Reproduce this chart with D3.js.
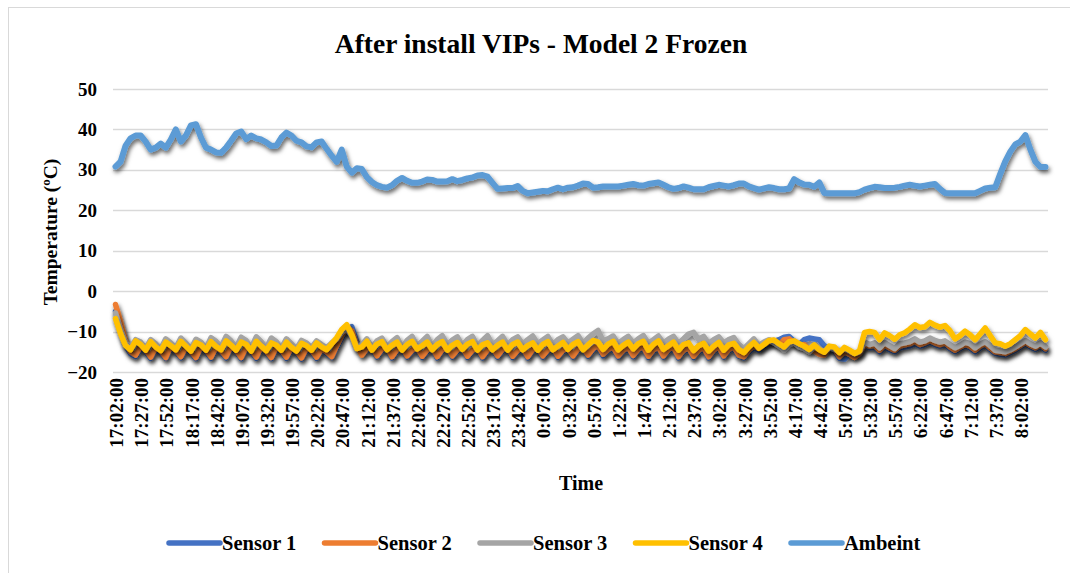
<!DOCTYPE html>
<html>
<head>
<meta charset="utf-8">
<script src="https://cdn.jsdelivr.net/npm/d3@7"></script>
<style>
  body { margin: 0; background: #fff; }
  text { font-family: "Liberation Serif", "Times New Roman", serif; font-weight: bold; fill: #000; }
</style>
</head>
<body>
<script>
// readings every 5 minutes from 17:02:00, tick label every 25 minutes
var tickLabels = ['17:02:00','17:27:00','17:52:00','18:17:00','18:42:00','19:07:00','19:32:00','19:57:00',
  '20:22:00','20:47:00','21:12:00','21:37:00','22:02:00','22:27:00','22:52:00','23:17:00','23:42:00',
  '0:07:00','0:32:00','0:57:00','1:22:00','1:47:00','2:12:00','2:37:00','3:02:00','3:27:00','3:52:00',
  '4:17:00','4:42:00','5:07:00','5:32:00','5:57:00','6:22:00','6:47:00','7:12:00','7:37:00','8:02:00'];
var yTicks = [-20, -10, 0, 10, 20, 30, 40, 50];

var ambient = [
  30.8, 32, 36, 37.8, 38.5, 38.5, 37, 35, 35.5, 36.5,
  35.5, 37.5, 40, 37, 38.5, 41, 41.3, 38, 35.5, 35,
  34.3, 34.2, 35.5, 37.2, 39, 39.5, 37.6, 38.5, 37.8, 37.5,
  36.8, 35.9, 36, 38, 39.2, 38.5, 37.2, 36.8, 35.8, 35.6,
  36.8, 37, 35.2, 33.5, 32, 35, 30.8, 29.3, 30.4, 30.2,
  28.2, 27, 26.2, 25.8, 25.6, 26.2, 27.3, 28, 27.3, 26.8,
  26.8, 27.1, 27.6, 27.5, 27.1, 27.1, 27.2, 27.7, 27.2, 27.5,
  27.9, 28.1, 28.6, 28.7, 28.3, 26.8, 25.3, 25.4, 25.5, 25.5,
  26, 24.8, 24.2, 24.4, 24.6, 24.8, 24.7, 25.2, 25.6, 25.2,
  25.6, 25.7, 26.1, 26.6, 26.5, 25.6, 25.7, 25.9, 25.9, 25.9,
  25.9, 26.1, 26.3, 26.5, 26.2, 26.1, 26.5, 26.7, 26.9, 26.3,
  25.7, 25.3, 25.5, 25.9, 25.6, 25.2, 25.2, 25.2, 25.7, 26,
  26.3, 26.1, 25.9, 26.2, 26.6, 26.6, 25.9, 25.5, 25.1, 25.4,
  25.7, 25.5, 25.2, 25.2, 25.4, 27.7, 26.9, 26.4, 26.3, 25.8,
  26.9, 24.3, 24.2, 24.2, 24.2, 24.2, 24.2, 24.2, 24.5, 25.1,
  25.5, 25.8, 25.7, 25.5, 25.5, 25.6, 25.8, 26.1, 26.3, 26.1,
  25.9, 26.1, 26.3, 26.5, 25.3, 24.3, 24.2, 24.2, 24.2, 24.2,
  24.2, 24.2, 24.8, 25.4, 25.6, 25.7, 29, 32.1, 34.5, 36.3,
  37, 38.6, 35, 32, 30.7, 30.7
];

var sensor1 = [
  -5.0, -9.0, -13.5, -15.5, -16.2, -14.2, -15.0, -16.6, -14.4, -15.2,
  -16.6, -14.0, -15.0, -16.5, -14.2, -15.2, -16.7, -14.1, -15.0, -16.6,
  -14.3, -15.1, -16.5, -14.0, -15.0, -16.7, -14.2, -15.0, -16.6, -14.1,
  -15.2, -16.7, -14.2, -15.0, -16.6, -14.4, -15.2, -16.8, -14.5, -15.0,
  -16.6, -14.6, -15.4, -16.4, -14.0, -11.6, -9.5, -8.8, -12.5, -15.5,
  -14.6, -14.0, -16.3, -14.7, -14.2, -16.5, -14.8, -14.2, -16.3, -15.0,
  -14.3, -16.4, -14.9, -14.2, -16.5, -14.8, -14.3, -16.3, -14.9, -14.2,
  -16.4, -15.0, -14.4, -16.5, -14.9, -14.3, -16.3, -14.8, -14.2, -16.4,
  -15.0, -14.4, -16.5, -14.8, -14.3, -16.3, -14.9, -14.3, -16.4, -15.0,
  -14.4, -16.3, -14.7, -14.2, -16.1, -14.6, -13.8, -16.0, -14.8, -14.2,
  -16.3, -15.0, -14.3, -16.2, -14.7, -14.1, -16.4, -14.9, -14.2, -16.3,
  -14.8, -14.2, -16.5, -15.0, -14.4, -16.4, -15.0, -14.3, -16.5, -14.9,
  -14.2, -16.3, -14.8, -14.1, -16.1, -16.5, -15.0, -14.0, -14.6, -13.6,
  -13.0, -12.4, -12.0, -11.4, -11.2, -12.4, -13.2, -12.0, -11.6, -11.8,
  -12.0, -13.5, -14.0, -14.8, -16.6, -16.8, -15.5, -16.0, -15.6, -13.5,
  -14.0, -13.8, -15.0, -13.8, -14.5, -15.0, -14.0, -13.8, -13.6, -13.0,
  -13.6, -13.2, -12.6, -13.2, -13.6, -13.2, -14.2, -15.0, -14.2, -13.6,
  -14.0, -15.0, -14.0, -13.4, -14.4, -15.4, -15.6, -15.8, -15.2, -14.6,
  -13.8, -13.0, -13.8, -14.4, -13.6, -14.6
];

var sensor2 = [
  -3.3, -7.5, -12.5, -15.0, -15.8, -13.6, -14.5, -16.3, -13.8, -14.7,
  -16.4, -13.5, -14.6, -16.2, -13.7, -14.8, -16.4, -13.6, -14.5, -16.3,
  -13.8, -14.7, -16.2, -13.5, -14.6, -16.4, -13.7, -14.5, -16.3, -13.6,
  -14.8, -16.4, -13.7, -14.6, -16.3, -13.9, -14.8, -16.5, -14.0, -14.6,
  -16.3, -14.2, -15.0, -16.2, -13.5, -11.0, -9.0, -9.8, -13.5, -15.8,
  -14.2, -13.6, -16.0, -14.3, -13.8, -16.2, -14.4, -13.8, -16.0, -14.6,
  -13.9, -16.1, -14.5, -13.8, -16.2, -14.4, -13.9, -16.0, -14.5, -13.8,
  -16.1, -14.6, -14.0, -16.2, -14.5, -13.9, -16.0, -14.4, -13.8, -16.1,
  -14.6, -14.0, -16.2, -14.4, -13.9, -16.0, -14.5, -13.9, -16.1, -14.6,
  -14.0, -16.0, -14.3, -13.8, -15.8, -14.2, -13.4, -15.6, -14.4, -13.8,
  -16.0, -14.6, -13.9, -15.9, -14.3, -13.7, -16.1, -14.5, -13.8, -16.0,
  -14.4, -13.8, -16.2, -14.6, -14.0, -16.1, -14.6, -13.9, -16.2, -14.5,
  -13.8, -16.0, -14.4, -13.7, -15.8, -16.2, -14.5, -13.6, -14.2, -13.0,
  -12.6, -12.2, -13.4, -12.0, -11.8, -12.8, -13.5, -13.2, -14.6, -14.8,
  -15.6, -15.8, -14.0, -14.2, -16.2, -15.0, -15.6, -16.4, -15.4, -13.2,
  -13.6, -13.4, -14.6, -13.3, -14.0, -14.6, -13.6, -13.3, -13.0, -12.4,
  -13.2, -12.8, -12.2, -12.8, -13.2, -12.8, -13.8, -14.6, -13.8, -13.2,
  -13.6, -14.6, -13.6, -13.0, -14.0, -15.0, -15.2, -15.4, -14.8, -14.2,
  -13.4, -12.6, -13.4, -14.0, -13.2, -14.2
];

var sensor3 = [
  -5.4, -9.5, -12.8, -14.0, -12.0, -12.6, -14.2, -12.0, -13.0, -14.3,
  -11.8, -12.8, -14.0, -11.6, -12.8, -14.3, -11.9, -12.6, -14.1, -11.5,
  -12.4, -13.8, -11.2, -12.3, -13.9, -11.4, -12.2, -14.0, -11.3, -12.5,
  -14.0, -11.6, -12.5, -14.1, -11.8, -13.0, -14.3, -12.2, -12.8, -14.0,
  -12.3, -13.2, -14.0, -12.8, -11.8, -10.2, -9.2, -11.0, -13.8, -13.2,
  -11.8, -14.0, -12.3, -11.6, -13.8, -12.5, -11.5, -13.9, -12.2, -11.2,
  -13.5, -12.4, -11.2, -13.6, -12.0, -11.0, -13.2, -12.1, -11.3, -13.4,
  -12.0, -11.2, -13.5, -12.2, -11.0, -13.2, -12.3, -11.2, -13.3, -12.0,
  -11.3, -13.1, -12.0, -11.1, -13.0, -12.1, -11.2, -13.2, -12.0, -11.3,
  -12.8, -11.9, -11.0, -12.9, -11.6, -10.6, -9.7, -12.3, -11.8, -11.1,
  -13.0, -12.0, -11.2, -12.8, -11.8, -11.0, -12.9, -12.0, -11.1, -12.8,
  -11.9, -11.2, -12.9, -11.8, -10.6, -10.2, -11.9, -11.2, -12.9, -12.0,
  -11.3, -12.8, -12.0, -11.5, -13.2, -14.2, -13.0, -11.8, -13.4, -12.6,
  -12.0, -12.8, -13.6, -14.5, -13.2, -12.8, -13.8, -14.2, -15.0, -13.8,
  -14.2, -15.0, -14.0, -14.3, -15.0, -14.2, -14.8, -15.4, -15.0, -12.6,
  -13.2, -12.8, -14.0, -12.7, -13.5, -14.2, -13.0, -12.8, -12.5, -11.8,
  -12.6, -12.3, -11.6, -12.2, -12.6, -12.3, -13.2, -14.0, -13.4, -12.6,
  -13.0, -14.0, -13.1, -12.5, -13.5, -14.6, -14.8, -15.0, -14.5, -13.8,
  -13.0, -12.2, -13.0, -13.6, -12.8, -13.8
];

var sensor4 = [
  -6.8, -10.5, -13.5, -14.5, -12.3, -13.2, -14.6, -12.5, -13.8, -14.7,
  -12.6, -13.5, -14.5, -12.4, -13.6, -14.8, -12.7, -13.3, -14.6, -12.5,
  -13.7, -14.5, -12.3, -13.4, -14.6, -12.6, -13.2, -14.8, -12.4, -13.6,
  -14.7, -12.8, -13.4, -14.6, -12.6, -13.9, -14.8, -12.9, -13.5, -14.6,
  -12.8, -13.8, -14.5, -13.0, -11.5, -9.5, -8.3, -10.8, -14.2, -13.8,
  -12.4, -14.6, -13.1, -12.5, -14.5, -13.4, -12.6, -14.6, -13.2, -12.4,
  -14.3, -13.5, -12.6, -14.5, -13.2, -12.5, -14.6, -13.4, -12.7, -14.4,
  -13.1, -12.5, -14.6, -13.3, -12.8, -14.5, -13.4, -12.6, -14.6, -13.2,
  -12.6, -14.5, -13.5, -12.8, -14.6, -13.2, -12.5, -14.5, -13.6, -12.7,
  -14.4, -13.2, -12.5, -14.5, -13.3, -12.2, -12.6, -14.4, -13.1, -12.4,
  -14.5, -13.4, -12.6, -14.3, -13.0, -12.4, -14.6, -13.2, -12.3, -14.4,
  -13.5, -12.6, -14.6, -13.2, -12.8, -14.7, -13.5, -12.9, -14.8, -13.6,
  -12.7, -14.6, -13.3, -12.9, -14.5, -15.2, -13.8, -12.7, -14.1, -13.2,
  -12.2, -12.1, -13.0, -13.8, -12.5, -12.3, -13.0, -13.6, -14.4, -13.3,
  -14.5, -15.1, -13.6, -13.8, -15.2, -13.9, -14.6, -15.4, -14.8, -10.2,
  -10.0, -10.2, -12.0, -10.3, -11.0, -11.9, -10.8, -10.3, -9.4, -8.3,
  -9.0, -8.8, -7.7, -8.4, -8.9, -8.5, -9.8, -11.8, -11.0, -9.9,
  -10.8, -12.0, -10.6, -9.1, -11.0, -12.8, -13.0, -13.6, -13.0, -12.0,
  -11.0, -9.5, -10.6, -11.6, -10.2, -12.0
];

var seriesNames = ['Sensor 1', 'Sensor 2', 'Sensor 3', 'Sensor 4', 'Ambeint'];
var seriesColors = ['#4472C4', '#ED7D31', '#A5A5A5', '#FFC000', '#5B9BD5'];
var seriesData = [sensor1, sensor2, sensor3, sensor4, ambient];

var W = 1070, H = 573;
var plotLeft = 113, plotRight = 1048, plotTop = 89, plotBottom = 372;

var svg = d3.select('body').append('svg')
  .attr('width', W)
  .attr('height', H);

// chart frame (only the top and left edges fall inside the picture)
svg.append('rect')
  .attr('x', 8.5).attr('y', 7.5)
  .attr('width', 1080).attr('height', 600)
  .attr('fill', '#fff')
  .attr('stroke', '#d9d9d9');

var defs = svg.append('defs');
var f = defs.append('filter').attr('id', 'shadow')
  .attr('x', '-5%').attr('y', '-20%').attr('width', '110%').attr('height', '150%');
f.append('feDropShadow')
  .attr('dx', 1.5).attr('dy', 3)
  .attr('stdDeviation', 2.2)
  .attr('flood-color', '#000')
  .attr('flood-opacity', 0.6);

var idx = d3.range(ambient.length);
var x = d3.scaleBand().domain(idx).range([plotLeft, plotRight]);
var y = d3.scaleLinear().domain([-20, 50]).range([plotBottom, plotTop]);

// gridlines
svg.append('g')
  .selectAll('line')
  .data(yTicks)
  .join('line')
  .attr('x1', plotLeft).attr('x2', plotRight)
  .attr('y1', function(d) { return Math.round(y(d)) + 0.5; })
  .attr('y2', function(d) { return Math.round(y(d)) + 0.5; })
  .attr('stroke', '#d9d9d9')
  .attr('stroke-width', 1.3);

// y axis
var yAxis = svg.append('g')
  .attr('transform', 'translate(' + (plotLeft - 16) + ',0)')
  .call(d3.axisLeft(y).tickValues(yTicks).tickSize(0).tickPadding(0));
yAxis.select('.domain').remove();
yAxis.selectAll('text')
  .style('font-size', '19px')
  .style('font-family', '"Liberation Serif", serif')
  .style('font-weight', 'bold')
  .attr('fill', '#000');

// x axis
var xAxis = svg.append('g')
  .attr('transform', 'translate(0,' + (plotBottom + 6) + ')')
  .call(d3.axisBottom(x)
    .tickValues(idx.filter(function(i) { return i % 5 === 0 && i / 5 < tickLabels.length; }))
    .tickFormat(function(i) { return tickLabels[i / 5]; })
    .tickSize(0).tickPadding(0));
xAxis.select('.domain').remove();
xAxis.selectAll('text')
  .attr('transform', 'rotate(-90)')
  .attr('text-anchor', 'end')
  .attr('x', 0)
  .attr('y', 1)
  .attr('dy', '0.35em')
  .style('font-size', '19px')
  .style('font-family', '"Liberation Serif", serif')
  .style('font-weight', 'bold')
  .attr('fill', '#000');

// lines
var line = d3.line()
  .x(function(d, i) { return x(i) + x.bandwidth() / 2; })
  .y(function(d) { return y(d); });

svg.append('g')
  .selectAll('path')
  .data(seriesData)
  .join('path')
  .attr('d', line)
  .attr('fill', 'none')
  .attr('stroke', function(d, i) { return seriesColors[i]; })
  .attr('stroke-width', function(d, i) { return i === 4 ? 6 : 5.5; })
  .attr('stroke-linejoin', 'round')
  .attr('stroke-linecap', 'round')
  .attr('filter', 'url(#shadow)');

// title and axis titles
svg.append('text')
  .attr('x', 541).attr('y', 53)
  .attr('text-anchor', 'middle')
  .style('font-size', '27.5px')
  .text('After install VIPs - Model 2 Frozen');

svg.append('text')
  .attr('transform', 'translate(57,232) rotate(-90)')
  .attr('text-anchor', 'middle')
  .style('font-size', '19.5px')
  .text('Temperature (ºC)');

svg.append('text')
  .attr('x', 581).attr('y', 490)
  .attr('text-anchor', 'middle')
  .style('font-size', '20px')
  .text('Time');

// legend
var leg = svg.append('g')
  .selectAll('g')
  .data(seriesNames)
  .join('g')
  .attr('transform', function(d, i) { return 'translate(' + (169 + i * 155.5) + ',543)'; });
leg.append('line')
  .attr('x1', 0).attr('x2', 51)
  .attr('stroke', function(d, i) { return seriesColors[i]; })
  .attr('stroke-width', 5.5)
  .attr('stroke-linecap', 'round');
leg.append('text')
  .attr('x', 53).attr('y', 7)
  .style('font-size', '20.5px')
  .text(function(d) { return d; });
</script>
</body>
</html>
